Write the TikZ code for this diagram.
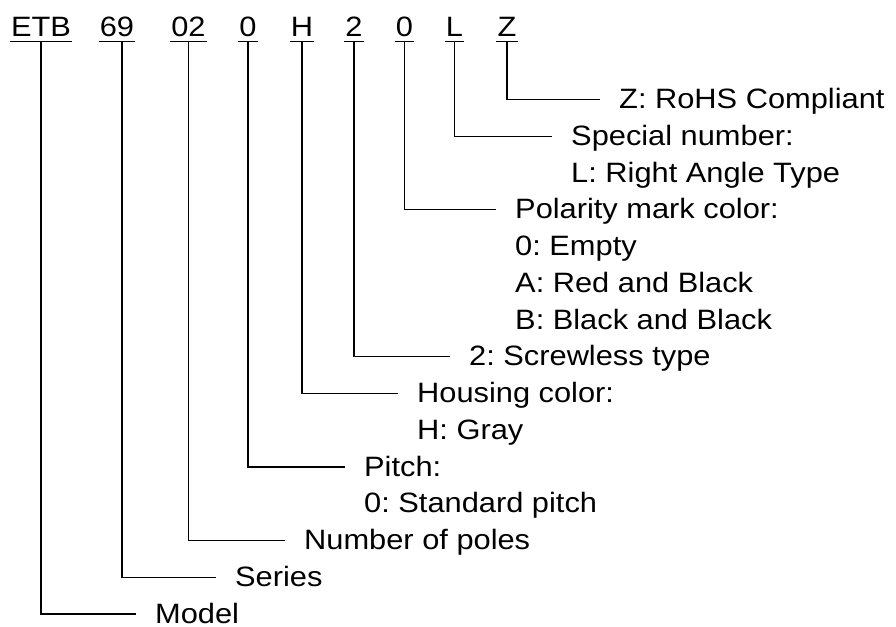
\documentclass[tikz,border=0pt]{standalone}
\usepackage{fontspec}
\setmainfont{Liberation Sans}[FakeStretch=1.1]
\frenchspacing
\tikzset{
  code/.style={font=\fontsize{28}{28}\selectfont, anchor=base, inner xsep=1pt, inner ysep=0pt, text depth=4pt},
  lbl/.style={font=\fontsize{28}{28}\selectfont, anchor=west, inner xsep=0pt, inner ysep=0pt, text height=18pt, text depth=0pt},
  conn/.style={draw, line width=1.2pt}
}
\begin{document}
\begin{tikzpicture}[x=1pt,y=-1pt]
    \useasboundingbox (0,0) rectangle (896,626);

    % part number
    \node[code] (etb) at (41,37) {ETB};
    \node[code] (n69) at (117,37) {69};
    \node[code] (n02) at (188.5,37) {02};
    \node[code] (p0) at (248,37) {0};
    \node[code] (h) at (302,37) {H};
    \node[code] (s2) at (354,37) {2};
    \node[code] (c0) at (404.5,37) {0};
    \node[code] (l) at (454.5,37) {L};
    \node[code] (z) at (507,37) {Z};
    \foreach \c in {etb,n69,n02,p0,h,s2,c0,l,z}
        \draw[conn] (\c.south west) -- (\c.south east);

    % descriptions
    \node[lbl] (rohs) at (619,99.5) {Z: RoHS Compliant};
    \node[lbl] (spec) at (571,136.25) {Special number:};
    \node[lbl] (spec2) at (571,173) {L: Right Angle Type};
    \node[lbl] (pol) at (515,209.75) {Polarity mark color:};
    \node[lbl] (pol2) at (515,246.5) {0: Empty};
    \node[lbl] (pol3) at (515,283.25) {A: Red and Black};
    \node[lbl] (pol4) at (515,320) {B: Black and Black};
    \node[lbl] (scr) at (469,356.75) {2: Screwless type};
    \node[lbl] (hous) at (417,393.5) {Housing color:};
    \node[lbl] (hous2) at (417,430.25) {H: Gray};
    \node[lbl] (pitch) at (364,467) {Pitch:};
    \node[lbl] (pitch2) at (364,503.75) {0: Standard pitch};
    \node[lbl] (poles) at (304,540.5) {Number of poles};
    \node[lbl] (series) at (235,577.25) {Series};
    \node[lbl] (model) at (155,614) {Model};

    % connectors
    \draw[conn] (z.south) |- ([xshift=-19pt]rohs.west);
    \draw[conn] (l.south) |- ([xshift=-19pt]spec.west);
    \draw[conn] (c0.south) |- ([xshift=-19pt]pol.west);
    \draw[conn] (s2.south) |- ([xshift=-19pt]scr.west);
    \draw[conn] (h.south) |- ([xshift=-19pt]hous.west);
    \draw[conn] (p0.south) |- ([xshift=-19pt]pitch.west);
    \draw[conn] (n02.south) |- ([xshift=-19pt]poles.west);
    \draw[conn] ([xshift=5pt]n69.south) |- ([xshift=-19pt]series.west);
    \draw[conn] (etb.south) |- ([xshift=-19pt]model.west);
\end{tikzpicture}
\end{document}
